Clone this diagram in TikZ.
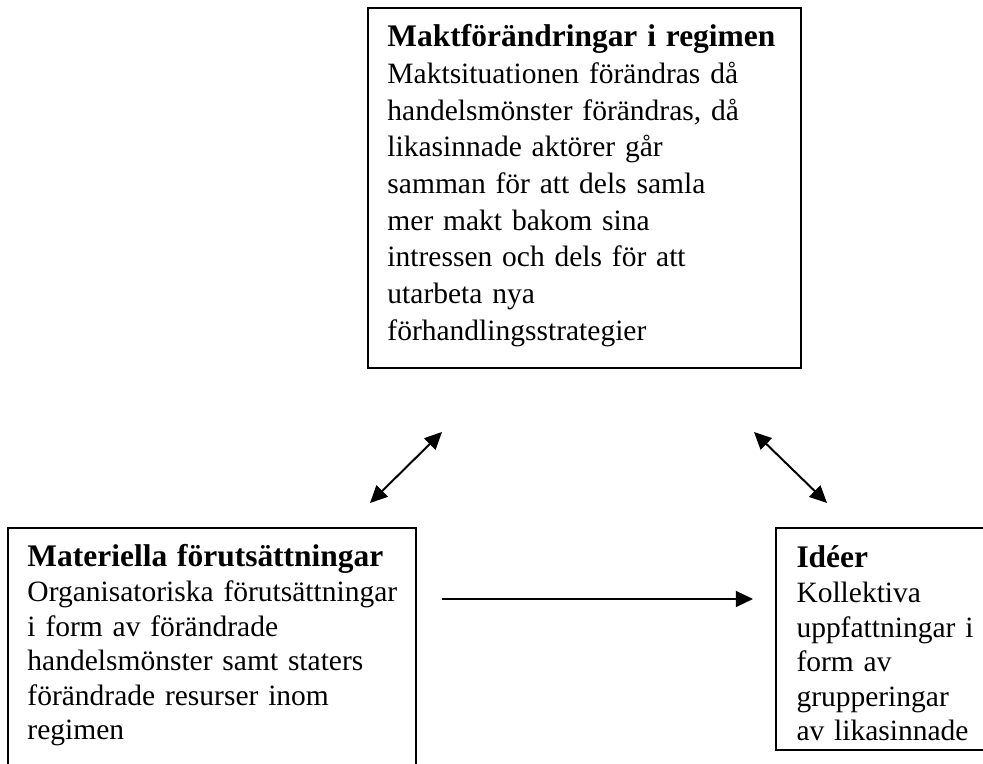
\documentclass[tikz,border=0pt]{standalone}
\usepackage{fontspec}
\setmainfont{Liberation Serif}
\usetikzlibrary{arrows.meta, positioning}
\newcommand{\pxu}{0.4068pt}
\newcommand{\boxtitle}[1]{{\fontsize{12.8}{14}\selectfont\bfseries #1}}

\tikzset{
    frame/.style={draw, thick, inner sep=0pt, anchor=north west},
    boxtext/.style={align=left, inner sep=0pt, anchor=base west},
    bigline/.style={font=\fontsize{12}{14.9}\selectfont},
    smallline/.style={font=\fontsize{12}{14.05}\selectfont},
    oneway/.style={thick, -{Triangle[length=7pt, width=6.5pt]}},
    twoway/.style={thick, {Triangle[length=7pt, width=6.5pt]}-{Triangle[length=7pt, width=6.5pt]}}
}

\begin{document}
\begin{tikzpicture}[x=\pxu, y=-\pxu]
        \useasboundingbox (0,0) rectangle (983,764);
        \clip (0,0) rectangle (983,764);
        % the three boxes
        \node[frame, minimum width=433*\pxu, minimum height=360*\pxu] (makt) at (367,7) {};
        \node[frame, minimum width=408*\pxu, minimum height=300*\pxu] (materiella) at (7,527) {};
        \node[frame, minimum width=240*\pxu, minimum height=222*\pxu] (ideer) at (775,527) {};
        \node[boxtext, bigline, text width=413*\pxu] (makttext) at ([shift={(20,40)}]makt.north west)
            {\boxtitle{Maktförändringar i regimen}\\
             Maktsituationen förändras då\\
             handelsmönster förändras, då\\
             likasinnade aktörer går\\
             samman för att dels samla\\
             mer makt bakom sina\\
             intressen och dels för att\\
             utarbeta nya\\
             förhandlingsstrategier};
        \node[boxtext, smallline, text width=388*\pxu] (materiellatext) at ([shift={(20,40)}]materiella.north west)
            {\boxtitle{Materiella förutsättningar}\\
             Organisatoriska förutsättningar\\
             i form av förändrade\\
             handelsmönster samt staters\\
             förändrade resurser inom\\
             regimen};
        \node[boxtext, smallline, text width=220*\pxu] (ideertext) at ([shift={(21,41)}]ideer.north west)
            {\boxtitle{Idéer}\\
             Kollektiva\\
             uppfattningar i\\
             form av\\
             grupperingar\\
             av likasinnade};
        % arrows
        \coordinate (leftlow) at (370,503);
        \coordinate (lefthigh) at (442,432);
        \coordinate (righthigh) at (754,432);
        \coordinate (rightlow) at (827,503);
        \coordinate (flowstart) at (442,599);
        \coordinate (flowend) at (753,599);
        \draw[twoway] (leftlow) -- (lefthigh);
        \draw[twoway] (righthigh) -- (rightlow);
        \draw[oneway] (flowstart) -- (flowend);
    \end{tikzpicture}
\end{document}
